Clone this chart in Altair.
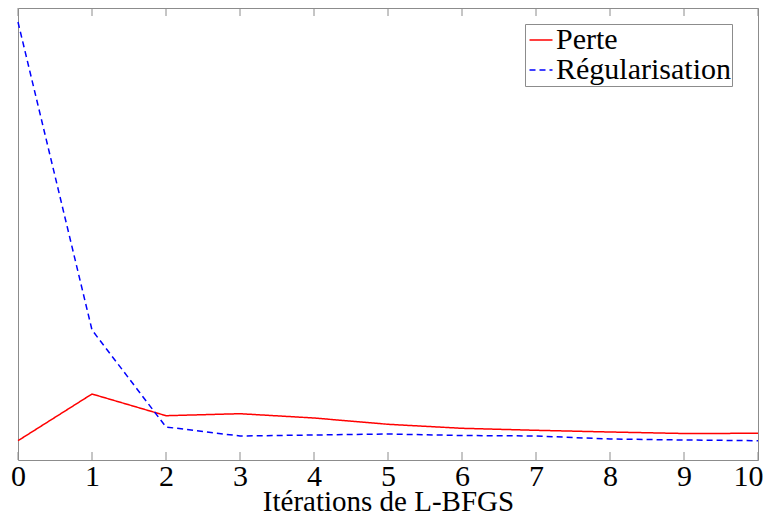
import altair as alt
import pandas as pd

iterations = list(range(11))
perte = [19.3, 66, 44.3, 46.3, 42, 35.7, 31.7, 29.7, 28, 26.5, 26.7]
regularisation = [438, 130, 33, 24, 25, 26, 24.5, 24, 21, 20, 19.3]
series_names = ["Perte", "Régularisation"]
tick_values = list(range(11))
x_title = "Itérations de L-BFGS"

rows = []
for i, v in zip(iterations, perte):
    rows.append({"iter": i, "value": v, "serie": series_names[0]})
for i, v in zip(iterations, regularisation):
    rows.append({"iter": i, "value": v, "serie": series_names[1]})
df = pd.DataFrame(rows)
ticks_df = pd.DataFrame({"iter": tick_values})

FONT = "Liberation Serif"
GRAY = "#8c8c8c"

legend = alt.Legend(
    title=None,
    orient="none",
    legendX=507,
    legendY=16,
    strokeColor=GRAY,
    fillColor="white",
    padding=1,
    symbolType="stroke",
    symbolSize=529,
    symbolStrokeWidth=1.5,
    labelFont=FONT,
    labelFontSize=30,
    labelColor="black",
    labelOffset=0,
    rowPadding=0,
    labelLimit=400,
)

x_axis = alt.Axis(
    values=tick_values,
    title=x_title,
    grid=False,
    ticks=False,
    domain=False,
    labelFont=FONT,
    labelFontSize=30,
    labelColor="black",
    labelPadding=1,
    labelFlush=False,
    labelOverlap=False,
    labelAlign={"condition": {"test": "datum.value == 10", "value": "right"}, "value": "center"},
    labelOffset={"condition": {"test": "datum.value == 10", "value": 5}, "value": 0},
    titleFont=FONT,
    titleFontSize=29,
    titleFontWeight="normal",
    titleColor="black",
    titlePadding=-4,
)
x_scale = alt.Scale(domain=[0, 10], nice=False, zero=False)

lines = alt.Chart(df).mark_line(strokeWidth=1.5).encode(
    x=alt.X("iter:Q", scale=x_scale, axis=x_axis),
    y=alt.Y("value:Q", scale=alt.Scale(domain=[0, 452], nice=False, zero=True), axis=None),
    color=alt.Color("serie:N", scale=alt.Scale(domain=series_names, range=["#ff0000", "#0000ff"]), legend=legend),
    strokeDash=alt.StrokeDash("serie:N", scale=alt.Scale(domain=series_names, range=[[1, 0], [6, 4]]), legend=legend),
)

bottom_ticks = alt.Chart(ticks_df).mark_rule(color=GRAY, strokeWidth=1).encode(
    x=alt.X("iter:Q", scale=x_scale, axis=x_axis), y=alt.value(452), y2=alt.value(444)
)
top_ticks = alt.Chart(ticks_df).mark_rule(color=GRAY, strokeWidth=1).encode(
    x=alt.X("iter:Q", scale=x_scale, axis=x_axis), y=alt.value(0), y2=alt.value(8)
)

chart = alt.layer(lines, bottom_ticks, top_ticks).properties(
    width=740,
    height=452,
    autosize=alt.AutoSizeParams(type="none"),
    padding={"left": 10, "top": 0, "right": 5, "bottom": 51},
    background="white",
).configure_view(stroke=GRAY, strokeWidth=1)

chart.save("out.html", embed_options={"renderer": "svg", "actions": False})
